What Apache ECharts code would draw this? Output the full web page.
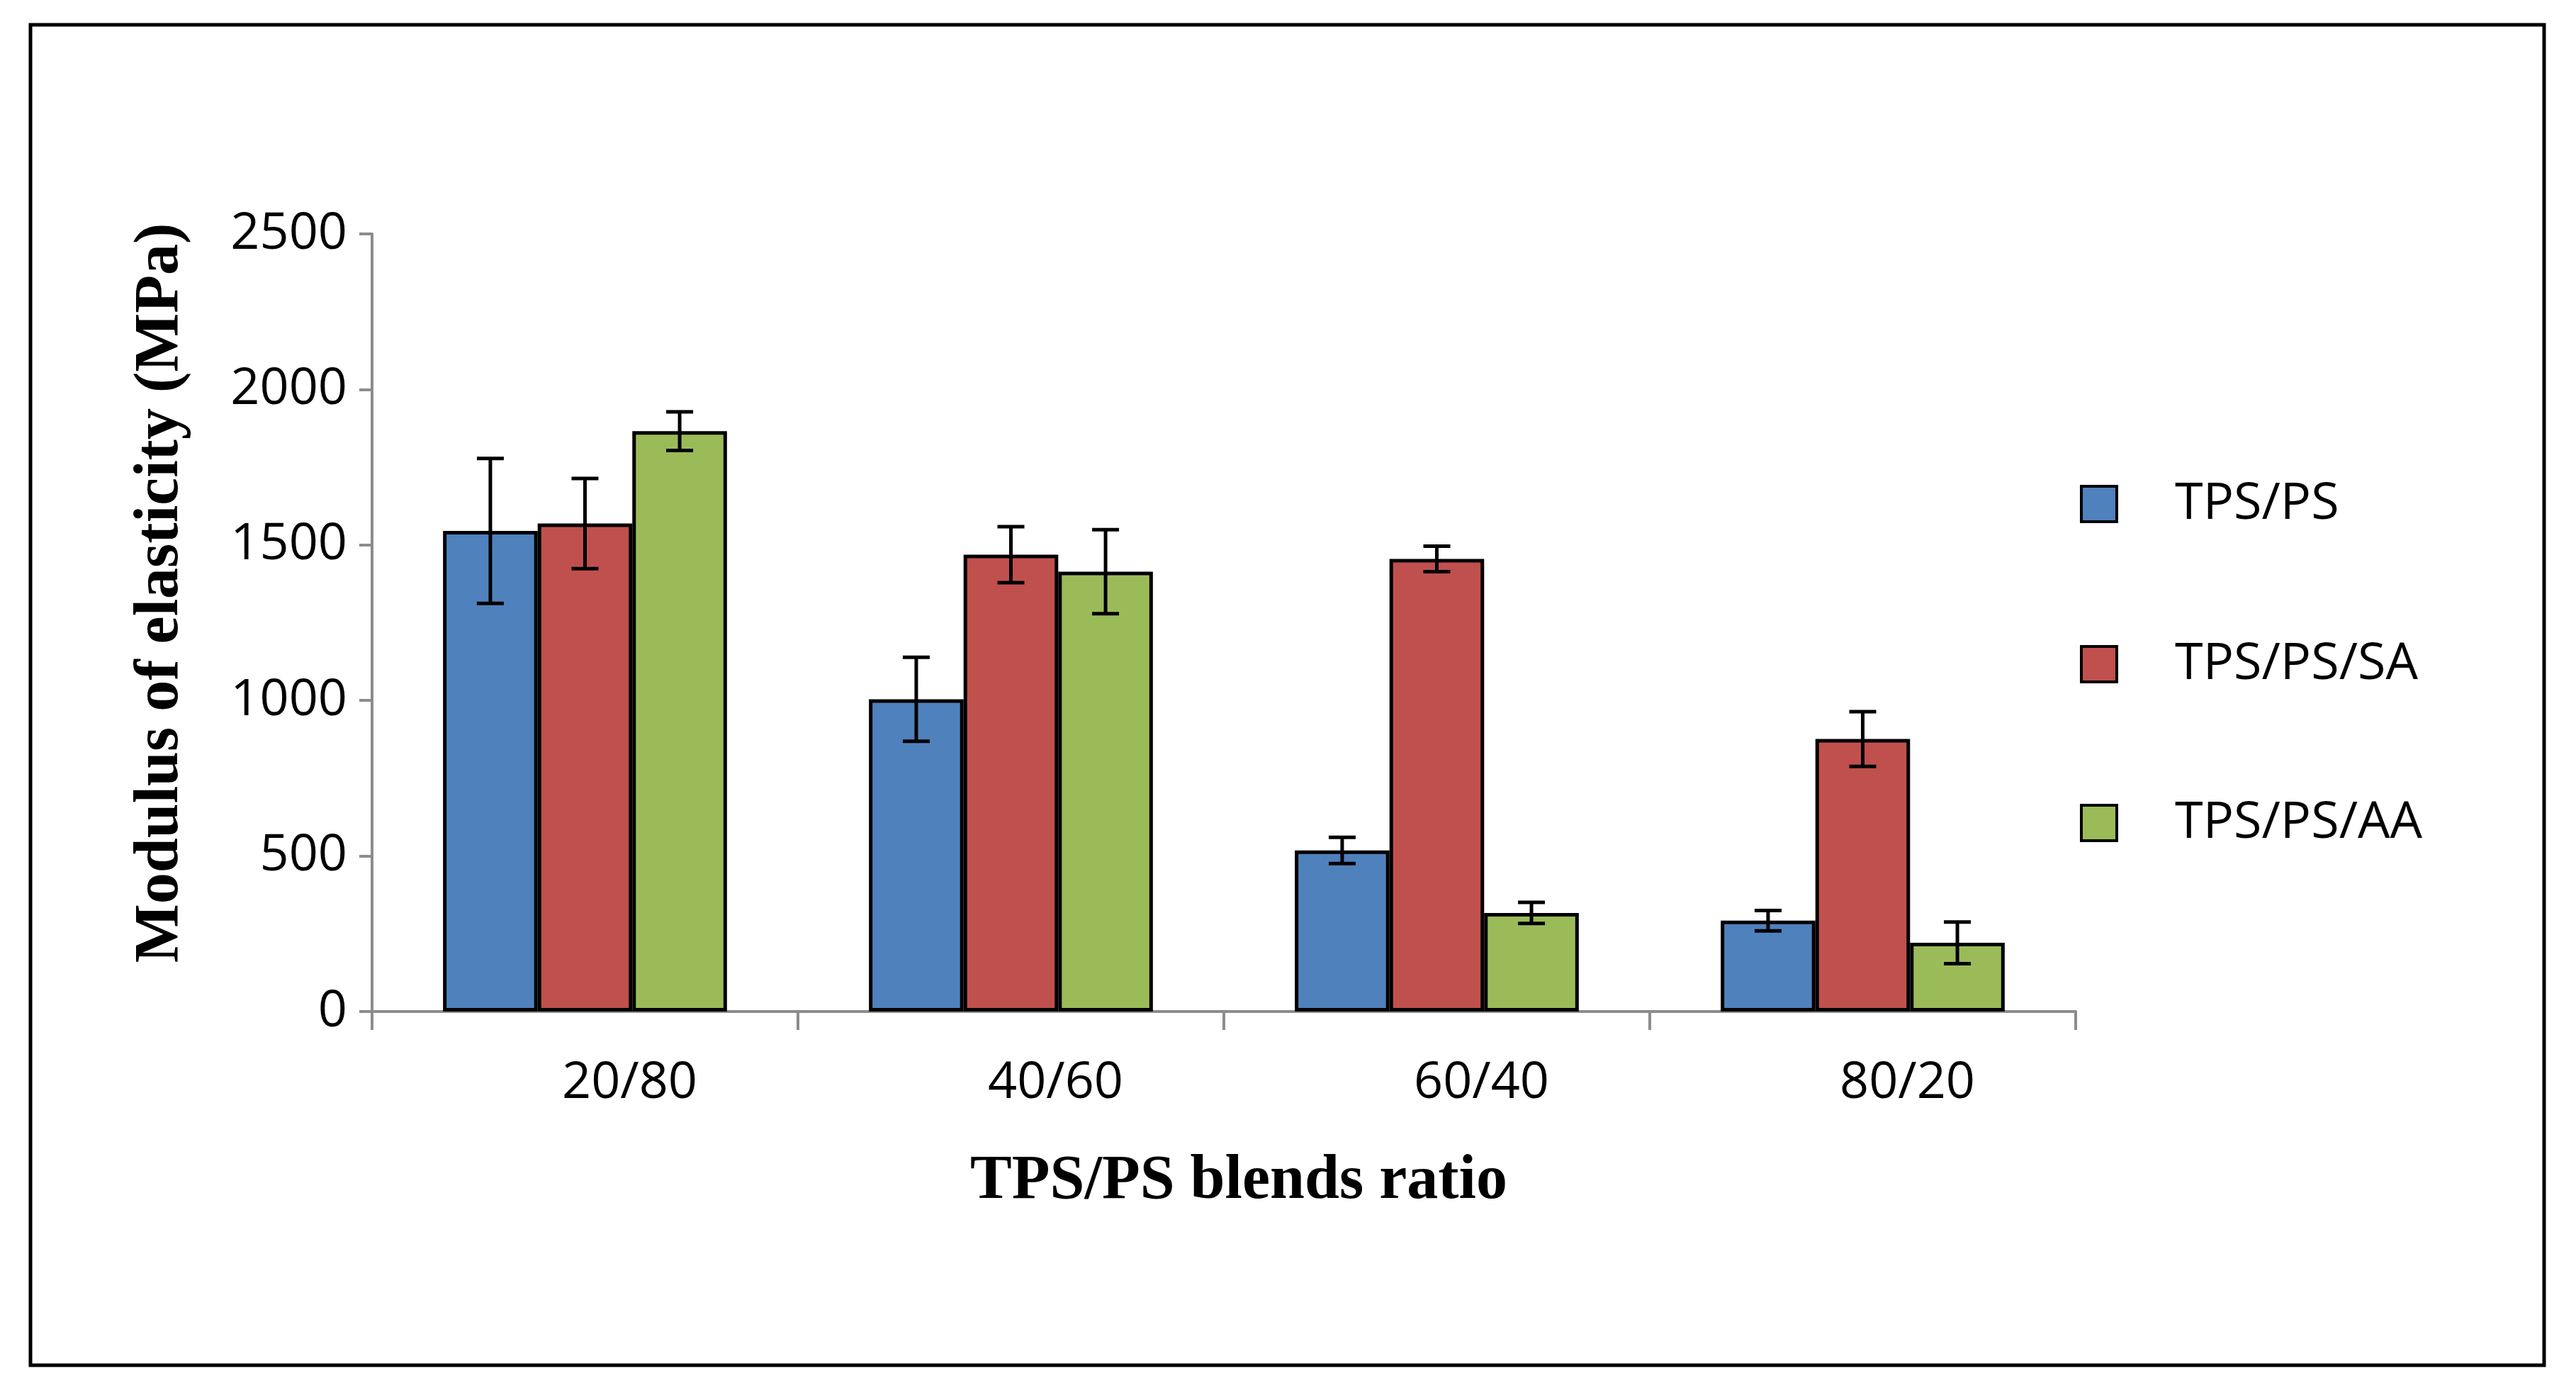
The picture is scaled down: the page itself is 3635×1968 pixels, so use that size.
<!DOCTYPE html>
<html>
<head>
<meta charset="utf-8">
<script src="https://cdn.jsdelivr.net/npm/echarts@6/dist/echarts.min.js"></script>
<style>
html,body{margin:0;padding:0;background:#fff;}
#chart{width:3635px;height:1968px;}
</style>
</head>
<body>
<div id="chart"></div>
<script>
// ---- data ----
const categories = ['20/80', '40/60', '60/40', '80/20'];
const seriesNames = ['TPS/PS', 'TPS/PS/SA', 'TPS/PS/AA'];
const tpsPs = [1545, 1004, 518, 292];
const tpsPsErr = [233, 135, 42, 33];
const tpsPsSa = [1569, 1469, 1455, 876];
const tpsPsSaErr = [145, 90, 41, 88];
const tpsPsAa = [1866, 1414, 317, 221];
const tpsPsAaErr = [62, 135, 34, 67];
const yTicks = [0, 500, 1000, 1500, 2000, 2500];

const colors = ['#4F81BD', '#C0504D', '#9BBB59'];
const values = [tpsPs, tpsPsSa, tpsPsAa];
const errors = [tpsPsErr, tpsPsSaErr, tpsPsAaErr];

const chart = echarts.init(document.getElementById('chart'), null, {renderer: 'canvas'});

const CAT_GAP = 0.3333;
function errRender(seriesIdx) {
  return function (params, api) {
    const ci = api.value(0);
    const v = api.value(1);
    const e = api.value(2);
    const band = api.size([1, 0])[0];
    const bw = band * (1 - CAT_GAP) / 3;
    const center = api.coord([ci, v]);
    const x = center[0] + (seriesIdx - 1) * bw;
    const yTop = api.coord([ci, v + e])[1];
    const yBot = api.coord([ci, v - e])[1];
    const cap = 19;
    const st = {stroke: '#000', lineWidth: 5};
    return {
      type: 'group',
      children: [
        {type: 'line', shape: {x1: x, y1: yTop, x2: x, y2: yBot}, style: st},
        {type: 'line', shape: {x1: x - cap, y1: yTop, x2: x + cap, y2: yTop}, style: st},
        {type: 'line', shape: {x1: x - cap, y1: yBot, x2: x + cap, y2: yBot}, style: st}
      ]
    };
  };
}

const series = [];
seriesNames.forEach(function (name, i) {
  series.push({
    name: name,
    type: 'bar',
    data: values[i],
    barGap: '0%',
    barCategoryGap: (CAT_GAP * 100) + '%',
    itemStyle: {color: colors[i], borderColor: '#000', borderWidth: 5},
    emphasis: {disabled: true},
    z: 2
  });
});
seriesNames.forEach(function (name, i) {
  series.push({
    name: name + ' err',
    type: 'custom',
    renderItem: errRender(i),
    data: values[i].map(function (v, k) { return [k, v, errors[i][k]]; }),
    encode: {x: 0, y: 1},
    z: 5,
    silent: true
  });
});

const legendTops = [675, 901, 1125];
const legends = seriesNames.map(function (name, i) {
  return {
    data: [name],
    orient: 'vertical',
    left: 2935,
    top: legendTops[i],
    padding: 0,
    itemWidth: 50,
    itemHeight: 50,
    icon: 'rect',
    selectedMode: false,
    itemStyle: {borderColor: '#000', borderWidth: 4},
    textStyle: {fontFamily: 'Open Sans', fontSize: 72, color: '#000', lineHeight: 72, padding: [0, 0, 0, 77]}
  };
});

const option = {
  backgroundColor: '#fff',
  animation: false,
  graphic: [{
    type: 'rect',
    shape: {x: 43, y: 35, width: 3547, height: 1891},
    style: {fill: 'none', stroke: '#000', lineWidth: 5},
    z: 0
  }],
  legend: legends,
  grid: {left: 525, right: 706, top: 330, bottom: 541, containLabel: false},
  xAxis: {
    type: 'category',
    data: categories,
    name: 'TPS/PS blends ratio',
    nameLocation: 'middle',
    nameGap: 196,
    nameTextStyle: {fontFamily: 'Liberation Serif', fontWeight: 'bold', fontSize: 88, color: '#000', lineHeight: 88, padding: [0, 0, 0, 42]},
    axisLine: {lineStyle: {color: '#8c8c8c', width: 4}},
    axisTick: {show: true, length: 26, lineStyle: {color: '#8c8c8c', width: 4}},
    axisLabel: {fontFamily: 'Open Sans', fontSize: 72, color: '#000', margin: 65, lineHeight: 72, padding: [0, 0, 0, 126]},
    splitLine: {show: false}
  },
  yAxis: {
    type: 'value',
    min: 0,
    max: 2500,
    interval: 500,
    name: 'Modulus of elasticity (MPa)',
    nameLocation: 'middle',
    nameGap: 254,
    nameRotate: 90,
    nameTextStyle: {fontFamily: 'Liberation Serif', fontWeight: 'bold', fontSize: 88, color: '#000', lineHeight: 88, padding: [0, 0, 0, 84]},
    axisLine: {show: true, lineStyle: {color: '#8c8c8c', width: 4}},
    axisTick: {show: true, length: 18, lineStyle: {color: '#8c8c8c', width: 4}},
    axisLabel: {fontFamily: 'Open Sans', fontSize: 72, color: '#000', margin: 35,
      formatter: function (v) { return yTicks.indexOf(v) >= 0 ? String(v) : ''; }},
    splitLine: {show: false}
  },
  series: series
};
chart.setOption(option);
</script>
</body>
</html>
